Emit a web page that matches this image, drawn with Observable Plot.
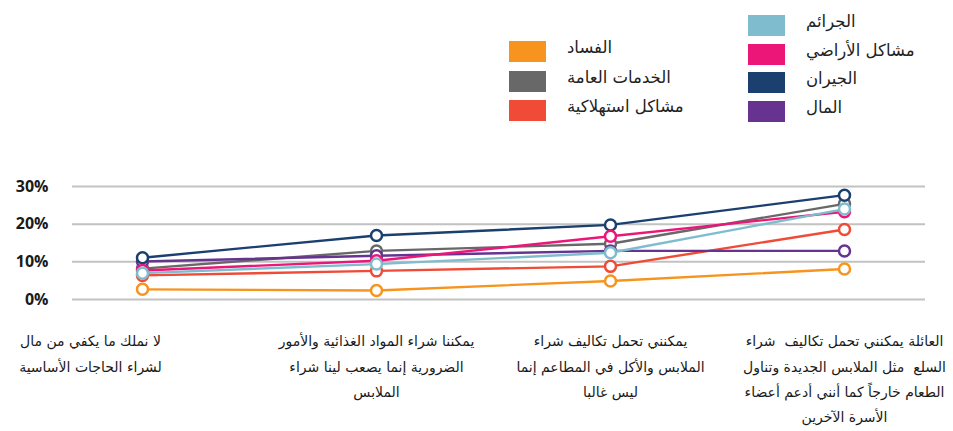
<!DOCTYPE html>
<html>
<head>
<meta charset="utf-8">
<script src="https://cdn.jsdelivr.net/npm/d3@7"></script>
<script src="https://cdn.jsdelivr.net/npm/@observablehq/plot@0.6"></script>
<style>
  html, body { margin: 0; padding: 0; background: #fff; }
  #wrap { position: relative; width: 953px; height: 431px; overflow: hidden; }
  #legend { position: relative; width: 953px; height: 150px; }
  .sw { position: absolute; width: 37px; height: 21px; }
  .lt { position: absolute; font-family: "DejaVu Sans", sans-serif; font-size: 16.5px; color: #222; white-space: nowrap; line-height: 21px; }
  svg { display: block; }
</style>
</head>
<body>
<div id="wrap">
  <div id="legend"></div>
  <div id="chart"></div>
</div>
<script>
// Categories (x axis, left to right as shown)
const categories = [
  "لا نملك ما يكفي من مال\nلشراء الحاجات الأساسية",
  "يمكننا شراء المواد الغذائية والأمور\nالضرورية إنما يصعب لينا شراء\nالملابس",
  "يمكنني تحمل تكاليف شراء\nالملابس والأكل في المطاعم إنما\nليس غالبا",
  "العائلة يمكنني تحمل تكاليف  شراء\nالسلع  مثل الملابس الجديدة وتناول\nالطعام خارجاً كما أنني أدعم أعضاء\nالأسرة الآخرين"
];

// Series names and colours
const seriesNames = ["الفساد", "الخدمات العامة", "مشاكل استهلاكية", "الجرائم", "مشاكل الأراضي", "الجيران", "المال"];
const seriesColors = ["#F7941D", "#686868", "#EF4B37", "#7FBDCE", "#EC1679", "#1B3F6E", "#663391"];

// Values (%) per series across categories
const corruption   = [2.7, 2.4, 4.9, 8.1];
const publicServ   = [8.2, 12.9, 14.8, 25.4];
const consumer     = [6.4, 7.6, 8.8, 18.6];
const crime        = [7.0, 9.4, 12.4, 24.0];
const landIssues   = [7.7, 10.3, 16.8, 23.3];
const neighbours   = [11.1, 17.0, 19.8, 27.7];
const money        = [10.1, 11.6, 12.9, 12.9];

const seriesValues = [corruption, publicServ, consumer, crime, landIssues, neighbours, money];
const yTicks = [0, 10, 20, 30];

// Legend (HTML)
const legend = document.getElementById("legend");
const leftCol = [0, 1, 2];
const rightCol = [3, 4, 5, 6];
function addItem(idx, left, top) {
  const sw = document.createElement("div");
  sw.className = "sw";
  sw.style.left = left + "px";
  sw.style.top = top + "px";
  sw.style.background = seriesColors[idx];
  legend.appendChild(sw);
  const t = document.createElement("div");
  t.className = "lt";
  t.style.left = (left + 58) + "px";
  t.style.top = (top - 4) + "px";
  t.textContent = seriesNames[idx];
  legend.appendChild(t);
}
leftCol.forEach((s, i) => addItem(s, 509, 41 + i * 29.5));
rightCol.forEach((s, i) => addItem(s, 748, 15 + i * 28.5));

// Long data
const data = [];
seriesNames.forEach((name, si) => {
  categories.forEach((c, ci) => data.push({series: name, category: c, value: seriesValues[si][ci]}));
});

const drawOrder = ["الفساد", "مشاكل استهلاكية", "الخدمات العامة", "المال", "الجيران", "مشاكل الأراضي", "الجرائم"];
const seriesMarks = [];
drawOrder.forEach(name => {
  const color = seriesColors[seriesNames.indexOf(name)];
  const d = data.filter(r => r.series === name);
  seriesMarks.push(Plot.line(d, {x: "category", y: "value", stroke: color, strokeWidth: 2.4}));
  seriesMarks.push(Plot.dot(d, {x: "category", y: "value", r: 5.5, stroke: color, strokeWidth: 2.5, fill: "white"}));
});

const textOpts = {
  frameAnchor: "bottom", lineAnchor: "top", dy: 29,
  fontSize: 14, lineHeight: 1.8, fontFamily: "DejaVu Sans", fill: "#1a1a1a", textAnchor: "middle"
};

const chart = Plot.plot({
  width: 953,
  height: 281,
  marginTop: 36,
  marginBottom: 132,
  marginLeft: 72,
  marginRight: 28,
  style: {fontFamily: "'Open Sans', sans-serif", fontSize: "16px", fontWeight: "bold", color: "#1a1a1a", background: "white"},
  x: {type: "point", domain: categories, padding: 0, insetLeft: 70, insetRight: 81, axis: null},
  y: {domain: [0, 30], ticks: yTicks, tickFormat: d => d + "%", tickSize: 0, tickPadding: 24, label: null},
  marks: [
    Plot.ruleY(yTicks, {stroke: "#c2c2c2", strokeWidth: 2}),
    ...seriesMarks,
    Plot.text(categories.slice(0, 1), {x: d => d, ...textOpts, dx: -52, fontWeight: "normal"}),
    Plot.text(categories.slice(1), {x: d => d, ...textOpts, fontWeight: "normal"})
  ]
});
document.getElementById("chart").appendChild(chart);
</script>
</body>
</html>
